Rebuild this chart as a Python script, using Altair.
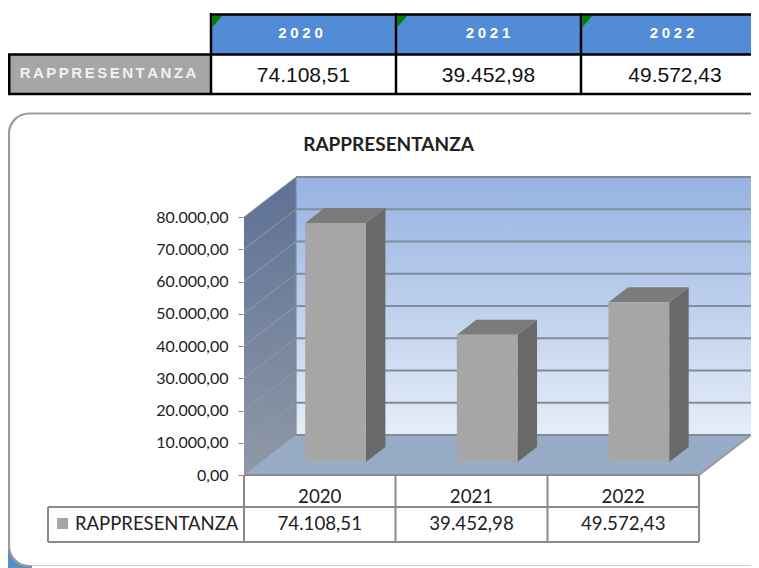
import altair as alt
import pandas as pd

# ---- values ----
years = ["2020", "2021", "2022"]
values = [74108.51, 39452.98, 49572.43]
value_labels = ["74.108,51", "39.452,98", "49.572,43"]
axis_ticks = [0, 10000, 20000, 30000, 40000, 50000, 60000, 70000, 80000]
series_name = "RAPPRESENTANZA"

# ---- geometry of the picture (constants of the style, not data) ----
W, H = 743, 560
RIGHT = 8 + W
X0, CAT = 244.0, 151.67        # image x of category 0 and width of one category
Y0, PX_PER = 475.0, 0.003225   # image y of value 0 and pixels per unit
DX, DY = 52.0, 40.0            # depth of the box in pixels
BAR_D0, BAR_D1 = 0.325, 0.70
BAR_HALF = 0.2
BAR_SHIFT = -0.008

cx = lambda px: (px - X0) / CAT
cy = lambda py: (Y0 - py) / PX_PER
xs = alt.Scale(domain=[cx(8), cx(RIGHT)], range=[0, W], nice=False, zero=False)
ys = alt.Scale(domain=[cy(568), cy(8)], range=[H, 0], nice=False, zero=False)
X = lambda f="x": alt.X(f"{f}:Q", scale=xs, axis=None)
Y = lambda f="y": alt.Y(f"{f}:Q", scale=ys, axis=None)


def px(d):
    return d * DX / CAT


def pv(d):
    return d * DY / PX_PER


one = alt.Data(values=[{"a": 1}])
layers = []
SANS = "Liberation Sans"
CAL = "Lato"


def box(x1, y1, x2, y2, fill, **kw):
    layers.append(alt.Chart(one).mark_rect(fill=fill, **kw).encode(
        x=alt.value(x1 - 8), x2=alt.value(x2 - 8), y=alt.value(y1 - 8), y2=alt.value(y2 - 8)))


def rule(x1, y1, x2, y2, color, w=1):
    layers.append(alt.Chart(one).mark_rule(color=color, strokeWidth=w).encode(
        x=alt.value(x1 - 8), x2=alt.value(x2 - 8), y=alt.value(y1 - 8), y2=alt.value(y2 - 8)))


def label(x, y, text, font, size, color, weight="normal", align="center"):
    layers.append(alt.Chart(alt.Data(values=[{"t": text}])).mark_text(
        font=font, fontSize=size, color=color, fontWeight=weight, align=align, baseline="middle"
    ).encode(x=alt.value(x - 8), y=alt.value(y - 8), text="t:N"))


def spaced(s, gap):
    return gap.join(s)


def grad(c0, c1):
    return alt.LinearGradient(gradient="linear",
                              stops=[alt.GradientStop(offset=0, color=c0),
                                     alt.GradientStop(offset=1, color=c1)],
                              x1=0, x2=0, y1=0, y2=1)


# ---- top table ----
col_edges = [211, 396, 581, 770]
centers = [300.5, 488, 672]
val_centers = [303.5, 488.5, 675]
for i, yr in enumerate(years):
    box(col_edges[i], 14, col_edges[i + 1], 54, "#528bd6")
    tri = pd.DataFrame({"x": [cx(col_edges[i] + 1.5), cx(col_edges[i] + 11)],
                        "y": [cy(16), cy(16)], "y2": [cy(27), cy(16)]})
    layers.append(alt.Chart(tri).mark_area(color="#008000", interpolate="linear").encode(
        x=X(), y=Y(), y2="y2:Q"))
    label(centers[i], 33, spaced(yr, "\u2005"), SANS, 15, "white", "bold")
    label(val_centers[i], 75.5, value_labels[i], SANS, 21, "#111111")
box(8, 55, 211, 94, "#a6a6a6")
label(108, 73, spaced(series_name, "\u2006"), SANS, 15, "#f2f2f2", "bold")
for yy, x1 in [(14.5, 210), (54.5, 8), (94, 8)]:
    rule(x1, yy, RIGHT, yy, "#000000", 2.5)
rule(9, 54, 9, 95, "#000000", 3)
for e in col_edges[:3]:
    rule(e, 13, e, 95, "#000000", 2.5)

# ---- rounded panel ----
box(8, 545, 32, 568, "#5b8dc8")
box(9, 113.5, 800, 566, "#ffffff", cornerRadius=20, stroke="#9a9a9a", strokeWidth=2.2)
rule(32, 567, RIGHT, 567, "#ffffff", 3)
label(388.5, 145, series_name, CAL, 19, "#222222", "bold")

# ---- box of the 3D chart ----
tick_df = pd.DataFrame({"v": axis_ticks})
wall_grad = grad("#5d7196", "#8f98a6")
back_grad = grad("#95b2e1", "#e6edf8")
vmax = axis_ticks[-1]

# back wall
layers.append(alt.Chart(alt.Data(values=[{"x": px(1), "x2": 3 + px(1), "y": pv(1), "y2": vmax + pv(1)}]))
              .mark_rect(fill=back_grad).encode(x=X(), x2="x2:Q", y=Y(), y2="y2:Q"))
# left wall
left = pd.DataFrame({"x": [0, px(1)], "y": [0, pv(1)], "y2": [vmax, vmax + pv(1)]})
layers.append(alt.Chart(left).mark_area(fill=wall_grad, interpolate="linear").encode(
    x=X(), y=Y(), y2="y2:Q"))
# floor
floor = pd.DataFrame({"x": [0, px(1)], "x2": [3, 3 + px(1)], "y": [0, pv(1)]})
layers.append(alt.Chart(floor).mark_area(fill="#98acc7", orient="horizontal", interpolate="linear").encode(
    y=Y(), x=X(), x2="x2:Q"))
# gridlines on walls
grid_rows = []
for v in axis_ticks:
    grid_rows += [{"v": v, "o": 0, "x": 0, "y": v}, {"v": v, "o": 1, "x": px(1), "y": v + pv(1)}]
layers.append(alt.Chart(pd.DataFrame(grid_rows)).mark_line(color="#969ba3", strokeWidth=1).encode(
    x=X(), y=Y(), detail="v:N", order="o:O"))
back_rows = pd.DataFrame({"x": px(1), "x2": 3 + px(1), "y": [v + pv(1) for v in axis_ticks]})
layers.append(alt.Chart(back_rows).mark_rule(color="#7f8c9a", strokeWidth=2).encode(
    x=X(), x2="x2:Q", y=Y()))
# edges
edges = pd.DataFrame({"x": [px(1), px(1)], "y": [0 + pv(1), vmax + pv(1)], "o": [0, 1]})
layers.append(alt.Chart(edges).mark_line(color="#7f8c9a", strokeWidth=1.2).encode(x=X(), y=Y(), order="o:O"))
edge2 = pd.DataFrame({"x": [3, 3 + px(1)], "y": [0, pv(1)]})
layers.append(alt.Chart(edge2).mark_line(color="#9a9a9a", strokeWidth=2).encode(x=X(), y=Y()))

# ---- bars ----
for i, v in enumerate(values):
    c = i + 0.5 + BAR_SHIFT
    xl, xr = c - BAR_HALF + px(BAR_D0), c + BAR_HALF + px(BAR_D0)
    b0, t0 = pv(BAR_D0), v + pv(BAR_D0)
    dx, dv = px(BAR_D1 - BAR_D0), pv(BAR_D1 - BAR_D0)
    side = pd.DataFrame({"x": [xr, xr + dx], "y": [b0, b0 + dv], "y2": [t0, t0 + dv]})
    layers.append(alt.Chart(side).mark_area(color="#696969", interpolate="linear").encode(x=X(), y=Y(), y2="y2:Q"))
    top = pd.DataFrame({"y": [t0, t0 + dv], "x": [xl, xl + dx], "x2": [xr, xr + dx]})
    layers.append(alt.Chart(top).mark_area(color="#7b7b7b", orient="horizontal", interpolate="linear").encode(
        y=Y(), x=X(), x2="x2:Q"))
    layers.append(alt.Chart(alt.Data(values=[{"x": xl, "x2": xr, "y": b0, "y2": t0}])).mark_rect(color="#a6a6a6").encode(
        x=X(), x2="x2:Q", y=Y(), y2="y2:Q"))

# ---- data table under the chart ----
GL = "#8a8a8a"
TABLE = [244, 395.5, 547.5, 699]
rule(244, 475, 699, 475, GL, 2)
rule(48, 507, 699, 507, GL, 2)
rule(48, 542, 699, 542, GL, 2)
rule(48, 507, 48, 542, GL, 2)
for e in TABLE:
    rule(e, 475, e, 542, GL, 2)
for i, yr in enumerate(years):
    mid = (TABLE[i] + TABLE[i + 1]) / 2
    label(mid, 497, yr, CAL, 18.7, "#222222")
    label(mid, 524, value_labels[i], CAL, 18.7, "#222222")
box(57, 518, 68, 529, "#a6a6a6")
label(75, 524, series_name, CAL, 18.5, "#222222", align="left")

# ---- real value axis, pulled in next to the left wall ----
axis_layer = alt.Chart(tick_df).mark_point(opacity=0).encode(
    x=alt.X("v:Q", scale=xs, axis=None),
    y=alt.Y("v:Q", scale=ys, axis=alt.Axis(
        values=axis_ticks, offset=-(243 - 8), domain=False, grid=False, title=None,
        ticks=True, tickColor="#8a8a8a", tickSize=5, labelPadding=10, zindex=2,
        labelFont=CAL, labelFontSize=16, labelColor="#222222",
        labelExpr="replace(replace(replace(format(datum.value, ',.2f'), ',', '_'), '.', ','), '_', '.')",
    )),
)
layers.append(axis_layer)

chart = alt.layer(*layers).resolve_axis(y="independent", x="independent").properties(
    width=W, height=H, padding=0, autosize=alt.AutoSizeParams(type="none"),
).configure_view(stroke=None, clip=False)

chart.save("out.html", embed_options={"renderer": "svg", "actions": False})
